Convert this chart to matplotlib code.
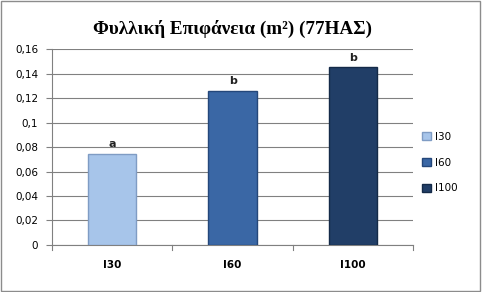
import matplotlib.pyplot as plt
from matplotlib.patches import Rectangle

categories = ["I30", "I60", "I100"]
values = [0.0745, 0.1255, 0.145]
letters = ["a", "b", "b"]
colors = ["#a7c5ea", "#3a67a5", "#213e67"]
edges = ["#7f9cc4", "#24477a", "#142a48"]
yticks = [0, 0.02, 0.04, 0.06, 0.08, 0.1, 0.12, 0.14, 0.16]
ytick_labels = ["0", "0,02", "0,04", "0,06", "0,08", "0,1", "0,12", "0,14", "0,16"]

fig = plt.figure(figsize=(4.82, 2.92), dpi=100)
ax = fig.add_axes([0.108, 0.161, 0.749, 0.671])

x = list(range(len(categories)))
for i in x:
    ax.bar(i, values[i], width=0.4, color=colors[i], edgecolor=edges[i],
           linewidth=1, label=categories[i], zorder=3)
    ax.text(i, values[i] + 0.004, letters[i], ha="center", va="bottom",
            fontsize=8, fontweight="bold", color="#222222")

ax.set_xlim(-0.5, 2.5)
ax.set_ylim(0, 0.16)
ax.set_yticks(yticks)
ax.set_yticklabels(ytick_labels, fontsize=7.5, family="DejaVu Sans")
ax.set_xticks(x)
ax.set_xticklabels(categories, fontsize=7.5, fontweight="bold", family="DejaVu Sans")
ax.tick_params(axis="x", length=0, pad=11)
ax.tick_params(axis="y", length=4, color="#808080", pad=6)
for b in [-0.5, 0.5, 1.5, 2.5]:
    ax.plot([b, b], [0, -0.004], color="#808080", lw=0.8, clip_on=False)

ax.grid(axis="y", color="#808080", lw=0.8, zorder=0)
for s in ["top", "right"]:
    ax.spines[s].set_visible(False)
ax.spines["left"].set_color("#808080")
ax.spines["bottom"].set_color("#808080")

ax.set_title("Φυλλική Επιφάνεια (m²) (77ΗΑΣ)", family="Liberation Serif",
             fontweight="bold", fontsize=13.8, pad=11)

leg = ax.legend(loc="center left", bbox_to_anchor=(1.0, 0.42), frameon=False,
                fontsize=7.5, handlelength=0.8, handleheight=0.8,
                labelspacing=1.5, handletextpad=0.4)

fig.patches.append(Rectangle((0.003, 0.005), 0.992, 0.99, transform=fig.transFigure,
                             fill=False, edgecolor="#8c8c8c", lw=1))

fig.savefig("out.png", dpi=100)
